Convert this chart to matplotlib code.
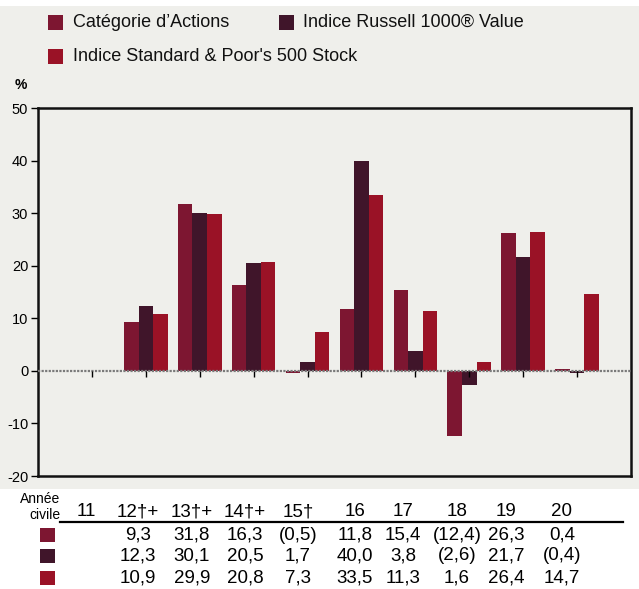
import matplotlib
matplotlib.use('AGG')
import matplotlib.pyplot as plt
from matplotlib.patches import Rectangle
import numpy as np

years = ['11', '12†+', '13†+', '14†+', '15†', '16', '17', '18', '19', '20']
series_names = ["Catégorie d’Actions", 'Indice Russell 1000® Value', "Indice Standard & Poor's 500 Stock"]
categorie = [np.nan, 9.3, 31.8, 16.3, -0.5, 11.8, 15.4, -12.4, 26.3, 0.4]
russell = [np.nan, 12.3, 30.1, 20.5, 1.7, 40.0, 3.8, -2.6, 21.7, -0.4]
sp500 = [np.nan, 10.9, 29.9, 20.8, 7.3, 33.5, 11.3, 1.6, 26.4, 14.7]
colors = ['#7d1631', '#40152a', '#9a1226']

W, H = 639, 589
BG = '#efefeb'
FONT = ['Liberation Sans', 'DejaVu Sans']


def fx(px):
    return px / W


def fy(py):
    return 1 - py / H


def fmt(v):
    if np.isnan(v):
        return ''
    s = ('%.1f' % abs(v)).replace('.', ',')
    return '(%s)' % s if v < 0 else s


def main():
    plt.rcParams['font.family'] = FONT
    plt.rcParams['axes.unicode_minus'] = False
    fig = plt.figure(figsize=(W / 100, H / 100), dpi=100)
    fig.patch.set_facecolor('white')
    fig.patches.append(Rectangle((0, fy(489)), 1, fy(6) - fy(489), transform=fig.transFigure,
                                 facecolor=BG, edgecolor='none', zorder=-5))

    ax = fig.add_axes([fx(38), fy(476), fx(631) - fx(38), fy(108) - fy(476)])
    ax.set_facecolor(BG)
    x = np.arange(len(years))
    w = 0.27
    for i, (vals, c) in enumerate(zip([categorie, russell, sp500], colors)):
        ax.bar(x + (i - 1) * w, vals, width=w, color=c, linewidth=0, zorder=2)

    ax.axhline(0, color='#7a7a7a', lw=1.6, linestyle=(0, (1, 0.6)), zorder=3)
    ax.vlines(x, -1.1, 0, color='black', lw=1, zorder=4)

    ax.set_xlim(-1, 10)
    ax.set_ylim(-20, 50)
    ax.set_xticks([])
    ax.set_yticks(range(-20, 51, 10))
    ax.tick_params(axis='y', length=5, width=1, pad=2, labelsize=10.5)
    for sp in ax.spines.values():
        sp.set_linewidth(1.8)
        sp.set_color('#111111')

    fig.text(fx(15), fy(85), '%', fontsize=10, fontweight='bold', va='center', ha='left')

    # legend
    leg_pos = [(48, 15), (279, 15), (48, 49)]
    leg_text_x = [73, 303, 73]
    for (lx, ly), tx, name, c in zip(leg_pos, leg_text_x, series_names, colors):
        fig.patches.append(Rectangle((fx(lx), fy(ly + 15)), fx(15), fy(0) - fy(15),
                                     transform=fig.transFigure, facecolor=c, edgecolor='none'))
        fig.text(fx(tx), fy(ly + 7.5), name, fontsize=13, va='center', ha='left', color='#111111')

    # table
    col_x = [86, 138, 192, 245, 298, 355, 403, 457, 506, 562]
    fig.text(fx(60), fy(499), 'Année', fontsize=10, ha='right', va='center')
    fig.text(fx(60), fy(515), 'civile', fontsize=10, ha='right', va='center')
    for cx, yr in zip(col_x, years):
        fig.text(fx(cx), fy(512), yr, fontsize=13.5, ha='center', va='center')
    fig.add_artist(plt.Line2D([fx(60), fx(623)], [fy(522), fy(522)], transform=fig.transFigure,
                              color='black', lw=1.6))
    row_y = [535, 556, 578]
    for ry, vals, c in zip(row_y, [categorie, russell, sp500], colors):
        fig.patches.append(Rectangle((fx(40), fy(ry + 7)), fx(15), fy(0) - fy(14),
                                     transform=fig.transFigure, facecolor=c, edgecolor='none'))
        for cx, v in zip(col_x, vals):
            fig.text(fx(cx), fy(ry), fmt(v), fontsize=13.5, ha='center', va='center')

    fig.savefig('out.png', dpi=100)


if "__main__" in __name__:
    main()
